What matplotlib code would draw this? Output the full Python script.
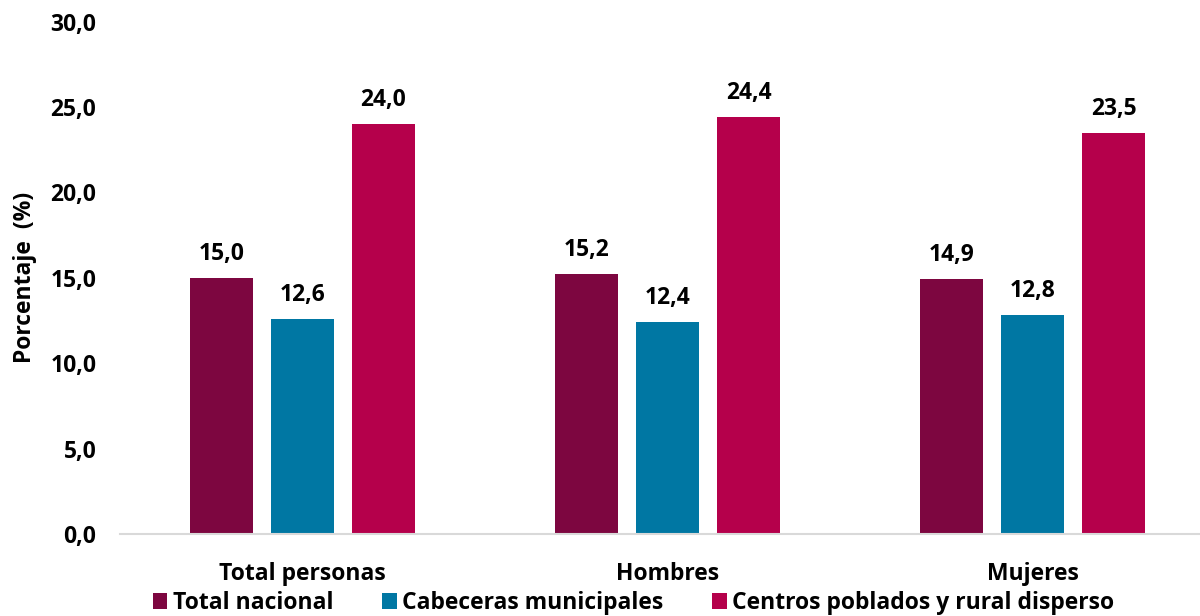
import matplotlib
matplotlib.use("Agg")
import matplotlib.pyplot as plt
import numpy as np

categories = ["Total personas", "Hombres", "Mujeres"]
series_names = ["Total nacional", "Cabeceras municipales", "Centros poblados y rural disperso"]
total_nacional = [15.0, 15.2, 14.9]
cabeceras = [12.6, 12.4, 12.8]
centros = [24.0, 24.4, 23.5]
yticks = [0, 5, 10, 15, 20, 25, 30]
colors = ["#7D0640", "#0077A3", "#B5004B"]

plt.rcParams['font.family'] = ['Open Sans', 'DejaVu Sans']
plt.rcParams['font.weight'] = 'bold'

FS = 16.5
fig = plt.figure(figsize=(12, 6.16), dpi=100)
ax = fig.add_axes([120/1200, (616-534)/616, 1080/1200, (534-21.5)/616])

x = np.arange(len(categories))
width = 63/365
offset = 81/365
data = [total_nacional, cabeceras, centros]
for i, (vals, name, c) in enumerate(zip(data, series_names, colors)):
    pos = x + (i - 1) * offset
    ax.bar(pos, vals, width, color=c, label=name)
    for p, v in zip(pos, vals):
        ax.text(p, v + 0.7, f"{v:.1f}".replace(".", ","), ha="center", va="bottom",
                fontsize=FS, fontweight="bold")

ax.set_xlim(-0.5, -0.5 + 1080/365)
ax.set_ylim(0, 30)
ax.set_yticks(yticks)
ax.set_yticklabels([f"{t:.1f}".replace(".", ",") for t in yticks], fontsize=FS, fontweight="bold")
ax.set_xticks(x)
ax.set_xticklabels(categories, fontsize=FS, fontweight="bold")
ax.tick_params(axis="both", length=0)
ax.tick_params(axis="y", pad=17)
ax.tick_params(axis="x", pad=20)
for s in ["top", "right", "left"]:
    ax.spines[s].set_visible(False)
ax.spines["bottom"].set_color("#D9D9D9")
ax.spines["bottom"].set_linewidth(1.5)
ax.set_ylabel("Porcentaje  (%)", fontsize=FS, fontweight="bold")
ax.yaxis.set_label_coords(-83/1080, 0.5)

fig.legend(loc="lower center", bbox_to_anchor=(0.528, -0.032), ncol=3, frameon=False,
           prop={"size": FS, "weight": "bold"}, handlelength=0.65, handleheight=0.65,
           handletextpad=0.25, columnspacing=2.1)

fig.savefig("out.png", dpi=100)
